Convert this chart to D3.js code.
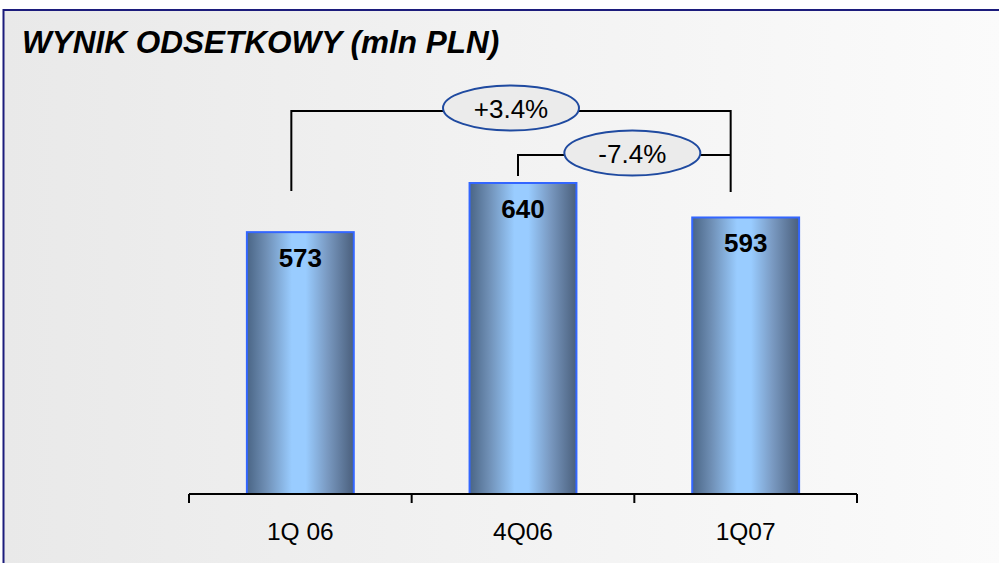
<!DOCTYPE html>
<html><head><meta charset="utf-8">
<script src="https://cdn.jsdelivr.net/npm/d3@7"></script>
<style>html,body{margin:0;padding:0;background:#fff;}svg{display:block;}</style>
</head><body>
<svg id="chart" width="999" height="563"></svg>
<script>
const title = "WYNIK ODSETKOWY (mln PLN)";
const categories = ["1Q 06", "4Q06", "1Q07"];
const values = [573, 640, 593];
const changes = [
  {from: "1Q 06", to: "1Q07", label: "+3.4%"},
  {from: "4Q06", to: "1Q07", label: "-7.4%"}
];

const svg = d3.select("#chart");
const W = 999, H = 563;
const defs = svg.append("defs");

const bg = defs.append("linearGradient").attr("id","bg").attr("x1","0").attr("x2","1").attr("y1","0").attr("y2","0");
bg.append("stop").attr("offset","0%").attr("stop-color","#e9e9e9");
bg.append("stop").attr("offset","100%").attr("stop-color","#fbfbfb");

const bar = defs.append("linearGradient").attr("id","bar").attr("x1","0").attr("x2","1").attr("y1","0").attr("y2","0");
[["0%","#4a6585"],["18%","#6f8fb5"],["42%","#99ccff"],["55%","#99ccff"],["75%","#7a9ac2"],["100%","#4a5f7c"]]
  .forEach(([o,c]) => bar.append("stop").attr("offset",o).attr("stop-color",c));

// panel
svg.append("rect").attr("x",3.5).attr("y",10).attr("width",W).attr("height",H)
  .attr("fill","url(#bg)").attr("stroke","#1c1c7c").attr("stroke-width",2);

svg.append("text").attr("x",22).attr("y",53)
  .attr("font-family","Arial, 'Liberation Sans', sans-serif").attr("font-weight","bold")
  .attr("font-style","italic").attr("font-size",31.5).attr("fill","#000").text(title);

const x = d3.scaleBand().domain(categories).range([189, 857]).paddingInner(0.52).paddingOuter(0.26);
const y = d3.scaleLinear().domain([216, 640]).range([494, 183]);

// bars
svg.append("g").selectAll("rect").data(values).join("rect")
  .attr("x",(d,i)=>x(categories[i])).attr("y",d=>y(d))
  .attr("width",x.bandwidth()).attr("height",d=>y.range()[0]-y(d))
  .attr("fill","url(#bar)").attr("stroke","#3366ff").attr("stroke-width",2);

svg.append("g").selectAll("text").data(values).join("text")
  .attr("x",(d,i)=>x(categories[i])+x.bandwidth()/2).attr("y",d=>y(d)+35)
  .attr("text-anchor","middle").attr("font-family","Arial, 'Liberation Sans', sans-serif")
  .attr("font-weight","bold").attr("font-size",26).attr("fill","#000").text(d=>d);

// axis
const step = x.step();
const axisG = svg.append("g");
axisG.append("line").attr("x1",x.range()[0]).attr("x2",x.range()[1]).attr("y1",494).attr("y2",494)
  .attr("stroke","#000").attr("stroke-width",2);
const tickXs = d3.range(categories.length+1).map(i => x.range()[0] + i*step);
axisG.selectAll(".tk").data(tickXs).join("line").attr("class","tk")
  .attr("x1",d=>d).attr("x2",d=>d).attr("y1",494).attr("y2",503)
  .attr("stroke","#000").attr("stroke-width",2);
axisG.selectAll(".lb").data(categories).join("text").attr("class","lb")
  .attr("x",d=>x(d)+x.bandwidth()/2).attr("y",540).attr("text-anchor","middle")
  .attr("font-family","Arial, 'Liberation Sans', sans-serif").attr("font-size",24.5).attr("fill","#000")
  .text(d=>d);

// change brackets
const offs = {"1Q 06": -9, "4Q06": -5, "1Q07": -15};
const cx = c => x(c) + x.bandwidth()/2 + offs[c];
const levels = [
  {yTop: 111, yFrom: 191, yTo: 192, ey: 108, dx: 0},
  {yTop: 155, yFrom: 176, yTo: 155, ey: 153, dx: 8}
];
changes.forEach((c,i) => {
  const L = levels[i];
  const x1 = cx(c.from), x2 = cx(c.to);
  svg.append("path")
    .attr("d", `M${x1},${L.yFrom}V${L.yTop}H${x2}V${L.yTo}`)
    .attr("fill","none").attr("stroke","#000").attr("stroke-width",2);
  const mx = (x1+x2)/2 + L.dx;
  svg.append("ellipse").attr("cx",mx).attr("cy",L.ey).attr("rx",68).attr("ry",22.5)
    .attr("fill","#ebebeb").attr("stroke","#1f4aa0").attr("stroke-width",2);
  svg.append("text").attr("x",mx).attr("y",L.ey+9.5).attr("text-anchor","middle")
    .attr("font-family","Arial, 'Liberation Sans', sans-serif").attr("font-size",26).attr("fill","#000")
    .text(c.label);
});
</script>
</body></html>
